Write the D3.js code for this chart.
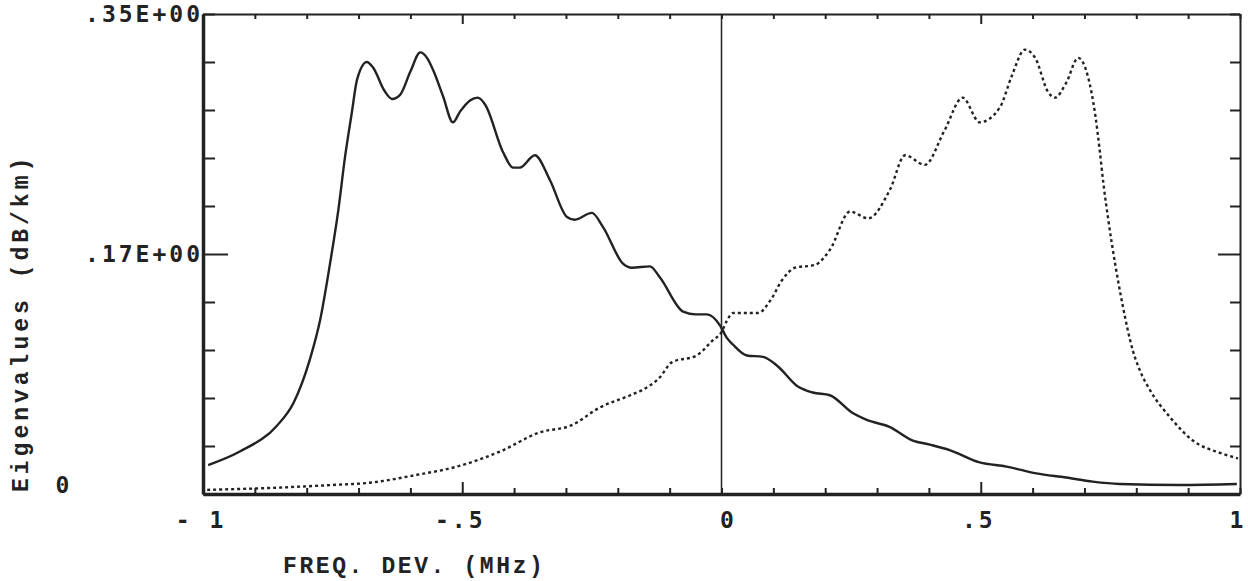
<!DOCTYPE html>
<html>
<head>
<meta charset="utf-8">
<script src="https://cdn.jsdelivr.net/npm/d3@7"></script>
<style>
  body { margin: 0; background: #fff; }
  text { fill: #222; }
</style>
</head>
<body>
<div id="chart"></div>
<script>
// Eigenvalue curves (freq in MHz, eigenvalue in dB/km)
// Curve A: solid, high on the left, low on the right
const freqA = [-0.99, -0.929, -0.857, -0.826, -0.794, -0.774, -0.755, -0.739, -0.726, -0.713,
  -0.703, -0.684, -0.672, -0.650, -0.635, -0.620, -0.600, -0.581, -0.568, -0.556,
  -0.537, -0.518, -0.504, -0.485, -0.470, -0.456, -0.421, -0.402, -0.389, -0.360,
  -0.331, -0.298, -0.283, -0.250, -0.229, -0.190, -0.173, -0.138, -0.119, -0.074,
  -0.050, -0.028, -0.003, 0.010, 0.022, 0.049, 0.080, 0.109, 0.145, 0.176,
  0.209, 0.253, 0.280, 0.324, 0.369, 0.402, 0.440, 0.498, 0.550, 0.607,
  0.665, 0.716, 0.768, 0.884, 0.994];
const eigA = [0.0211, 0.031, 0.050, 0.066, 0.098, 0.127, 0.168, 0.207, 0.246, 0.278,
  0.302, 0.315, 0.311, 0.294, 0.288, 0.291, 0.308, 0.322, 0.318, 0.309,
  0.290, 0.271, 0.279, 0.287, 0.289, 0.284, 0.249, 0.238, 0.238, 0.247,
  0.229, 0.202, 0.200, 0.205, 0.195, 0.168, 0.165, 0.166, 0.158, 0.133,
  0.131, 0.131, 0.123, 0.114, 0.109, 0.101, 0.100, 0.093, 0.079, 0.074,
  0.072, 0.059, 0.054, 0.049, 0.039, 0.036, 0.032, 0.023, 0.020, 0.015,
  0.012, 0.009, 0.0073, 0.0066, 0.0073];

// Curve B: dotted, low on the left, high on the right
const freqB = [-0.992, -0.871, -0.749, -0.684, -0.587, -0.510, -0.427, -0.350, -0.290, -0.235,
  -0.176, -0.152, -0.119, -0.096, -0.048, -0.017, 0.000, 0.010, 0.022, 0.071,
  0.094, 0.117, 0.142, 0.180, 0.209, 0.248, 0.283, 0.325, 0.354, 0.392,
  0.430, 0.465, 0.498, 0.537, 0.560, 0.585, 0.605, 0.630, 0.643, 0.665,
  0.688, 0.707, 0.721, 0.729, 0.737, 0.746, 0.773, 0.793, 0.807, 0.826,
  0.865, 0.909, 0.961, 0.996];
const eigB = [0.003, 0.0044, 0.0066, 0.008, 0.014, 0.020, 0.031, 0.045, 0.050, 0.063,
  0.072, 0.076, 0.085, 0.096, 0.101, 0.112, 0.118, 0.126, 0.132, 0.132,
  0.141, 0.156, 0.165, 0.167, 0.178, 0.206, 0.201, 0.222, 0.247, 0.240,
  0.265, 0.289, 0.271, 0.282, 0.305, 0.324, 0.318, 0.293, 0.289, 0.300,
  0.318, 0.304, 0.276, 0.252, 0.225, 0.200, 0.139, 0.105, 0.090, 0.076,
  0.056, 0.039, 0.030, 0.026];

const xTickValues = [-1, -0.5, 0, 0.5, 1];
const xTickLabels = ["- 1", "-.5", "0", ".5", "1"];
const yTickValues = [0, 0.175, 0.35];
const yTickLabels = ["0", ".17E+00", ".35E+00"];

const margin = { top: 14, right: 8, bottom: 87, left: 203 },
    width = 1248 - margin.left - margin.right,
    height = 581 - margin.top - margin.bottom;

const ink = "#222";
const numFont = "'DejaVu Sans Mono', monospace";
const titleFont = "'Liberation Mono', monospace";

const svg = d3.select("#chart")
    .append("svg")
    .attr("width", width + margin.left + margin.right)
    .attr("height", height + margin.top + margin.bottom)
    .append("g")
    .attr("transform", `translate(${margin.left},${margin.top})`);

const x = d3.scaleLinear().domain([-1, 1]).range([0, width]);
const y = d3.scaleLinear().domain([0, 0.35]).range([height, 0]);

const minorX = d3.range(-10, 11).map(i => i / 10);
const minorY = d3.range(0, 11).map(i => i * 0.035);
const isHalf = d => Math.abs(Math.abs(d) - 0.5) < 1e-9;
const isMidY = d => Math.abs(d - 0.175) < 1e-9;

function styleAxis(g, domainWidth) {
    g.select(".domain").attr("stroke", ink).attr("stroke-width", domainWidth);
    g.selectAll(".tick line").attr("stroke", ink).attr("stroke-width", 2);
    g.selectAll(".tick text").remove();
}

// Bottom axis, ticks pointing up
svg.append("g")
    .attr("transform", `translate(0,${height})`)
    .call(d3.axisTop(x).tickValues(minorX).tickSizeOuter(0).tickFormat(""))
    .call(g => styleAxis(g, 3.5))
    .call(g => g.selectAll(".tick line").attr("y2", d => isHalf(d) ? -12 : -6));

// Top axis, ticks pointing down
svg.append("g")
    .call(d3.axisBottom(x).tickValues(minorX).tickSizeOuter(0).tickFormat(""))
    .call(g => styleAxis(g, 2))
    .call(g => g.selectAll(".tick line").attr("y2", d => isHalf(d) ? 10 : 5));

// Left axis, ticks pointing right
svg.append("g")
    .call(d3.axisRight(y).tickValues(minorY).tickSizeOuter(0).tickFormat(""))
    .call(g => styleAxis(g, 3.5))
    .call(g => g.selectAll(".tick line").attr("x2", d => isMidY(d) ? 25 : 12));

// Right axis, ticks pointing left
svg.append("g")
    .attr("transform", `translate(${width},0)`)
    .call(d3.axisLeft(y).tickValues(minorY).tickSizeOuter(0).tickFormat(""))
    .call(g => styleAxis(g, 2))
    .call(g => g.selectAll(".tick line").attr("x2", d => isMidY(d) ? -22 : -10));

// Zero frequency line
svg.append("line")
    .attr("x1", x(0)).attr("x2", x(0))
    .attr("y1", 0).attr("y2", height)
    .attr("stroke", ink)
    .attr("stroke-width", 1.5);

// Tick labels
svg.selectAll(".xlab")
    .data(xTickValues)
    .enter().append("text")
    .attr("x", d => x(d) + (d === 0 ? 7 : -2))
    .attr("y", height + 34)
    .attr("text-anchor", "middle")
    .style("font-family", numFont)
    .style("font-weight", "bold")
    .style("font-size", "23px")
    .style("letter-spacing", "3px")
    .text((d, i) => xTickLabels[i]);

svg.selectAll(".ylab")
    .data(yTickValues)
    .enter().append("text")
    .attr("x", d => d === 0 ? -139 : 0)
    .attr("y", d => y(d) + (d === 0 ? -1 : 8))
    .attr("text-anchor", d => d === 0 ? "middle" : "end")
    .style("font-family", numFont)
    .style("font-weight", "bold")
    .style("font-size", "23px")
    .style("letter-spacing", "3px")
    .text((d, i) => yTickLabels[i]);

// Axis titles
svg.append("text")
    .attr("x", 283 - margin.left)
    .attr("y", height + 79)
    .style("font-family", titleFont)
    .style("font-weight", "bold")
    .style("font-size", "23px")
    .style("letter-spacing", "2.6px")
    .text("FREQ. DEV. (MHz)");

svg.append("text")
    .attr("transform", `translate(${28 - margin.left},${height - 2}) rotate(-90)`)
    .style("font-family", titleFont)
    .style("font-weight", "bold")
    .style("font-size", "23px")
    .style("letter-spacing", "4px")
    .text("Eigenvalues (dB/km)");

// Curves
const line = d3.line()
    .x(d => x(d[0]))
    .y(d => y(d[1]))
    .curve(d3.curveMonotoneX);

svg.append("path")
    .datum(d3.zip(freqA, eigA))
    .attr("fill", "none")
    .attr("stroke", ink)
    .attr("stroke-width", 2.4)
    .attr("d", line);

svg.append("path")
    .datum(d3.zip(freqB, eigB))
    .attr("fill", "none")
    .attr("stroke", ink)
    .attr("stroke-width", 2.4)
    .attr("stroke-dasharray", "3,3")
    .attr("d", line);
</script>
</body>
</html>
